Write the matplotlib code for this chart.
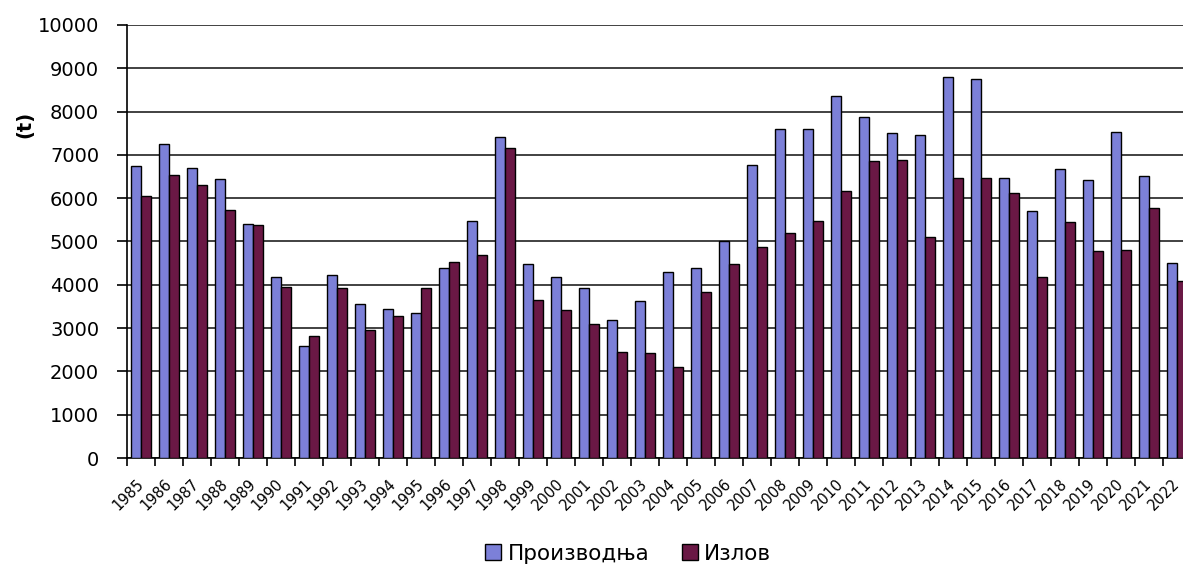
import numpy as np
import matplotlib
matplotlib.use("Agg")
import matplotlib.pyplot as plt

# ---- data ----
godine = [str(g) for g in range(1985, 2023)]
proizvodnja = [6750, 7260, 6690, 6440, 5410, 4170, 2580, 4230, 3560, 3450,
               3360, 4390, 5470, 7420, 4470, 4180, 3930, 3180, 3620, 4290,
               4390, 5000, 6760, 7590, 7590, 8360, 7870, 7500, 7450, 8800,
               8750, 6470, 5700, 6680, 6420, 7530, 6510, 4500]
izlov = [6060, 6540, 6300, 5720, 5380, 3950, 2820, 3920, 2950, 3270,
         3920, 4530, 4680, 7170, 3660, 3420, 3100, 2440, 2420, 2110,
         3830, 4490, 4870, 5200, 5470, 6170, 6850, 6890, 5100, 6470,
         6470, 6130, 4180, 5450, 4770, 4800, 5770, 4090]
serije = ['Производња', 'Излов']
boje = ['#7c80d8', '#6a1845']

fig = plt.figure(figsize=(11.83, 5.71), dpi=100)
ax = fig.add_axes([127/1183, 1 - 458/571, 1064/1183, 433/571])

x = np.arange(len(godine))
w = 0.36
ax.bar(x - w/2, proizvodnja, w, color=boje[0], edgecolor='black', linewidth=1.0,
       label=serije[0], zorder=3)
ax.bar(x + w/2, izlov, w, color=boje[1], edgecolor='black', linewidth=1.0,
       label=serije[1], zorder=3)

ax.set_xlim(-0.5, len(godine) - 0.5)
ax.set_ylim(0, 10000)
ax.set_yticks(np.arange(0, 10001, 1000))
ax.tick_params(axis='y', labelsize=14, length=7, width=1.2, pad=13)
ax.yaxis.grid(True, color='#333333', linewidth=1.3, zorder=0)

# tick marks between groups, labels at group centres
ax.set_xticks(np.arange(-0.5, len(godine), 1))
ax.set_xticklabels([])
ax.tick_params(axis='x', which='major', length=6, width=1.2, direction='out')
ax.set_xticks(x, minor=True)
ax.set_xticklabels(godine, minor=True, rotation=45, ha='right', va='center',
                   rotation_mode='anchor', fontsize=10.5)
ax.tick_params(axis='x', which='minor', length=0, pad=17)

for s in ['top', 'right']:
    ax.spines[s].set_visible(False)
ax.spines['left'].set_linewidth(1.2)
ax.spines['bottom'].set_linewidth(1.2)

ax.set_ylabel('(t)', fontsize=14, fontweight='bold')
ax.yaxis.set_label_coords(-0.087, 0.77)

fig.legend(loc='center', bbox_to_anchor=(0.531, 0.03), ncol=2, frameon=False,
           fontsize=15.5, handlelength=0.75, handleheight=0.75, handletextpad=0.3,
           columnspacing=1.5)

fig.savefig('out.png', dpi=100)
